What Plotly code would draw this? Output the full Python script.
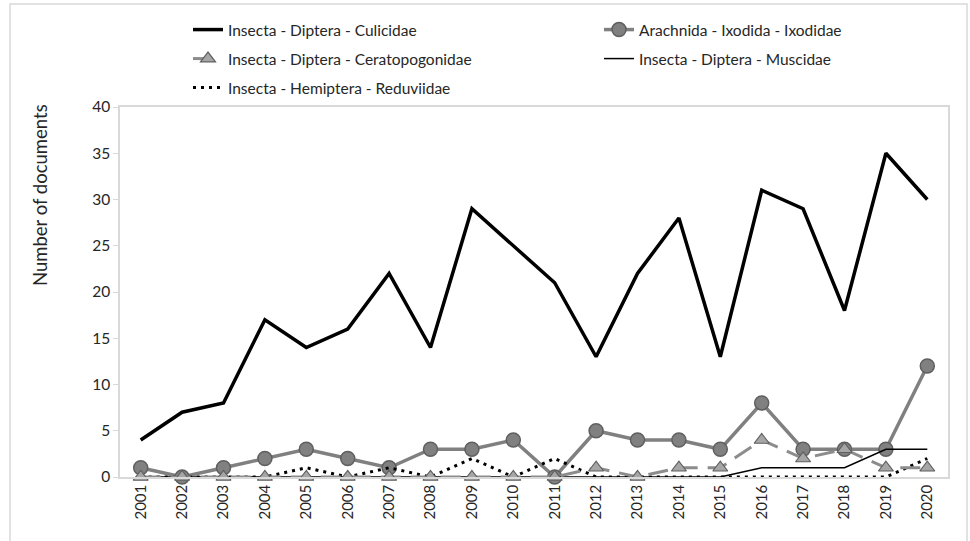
import plotly.graph_objects as go

years = [str(y) for y in range(2001, 2021)]
culicidae = [4, 7, 8, 17, 14, 16, 22, 14, 29, 25, 21, 13, 22, 28, 13, 31, 29, 18, 35, 30]
ixodidae = [1, 0, 1, 2, 3, 2, 1, 3, 3, 4, 0, 5, 4, 4, 3, 8, 3, 3, 3, 12]
ceratopogonidae = [0, 0, 0, 0, 0, 0, 0, 0, 0, 0, 0, 1, 0, 1, 1, 4, 2, 3, 1, 1]
muscidae = [0, 0, 0, 0, 0, 0, 0, 0, 0, 0, 0, 0, 0, 0, 0, 1, 1, 1, 3, 3]
reduviidae = [0, 0, 0, 0, 1, 0, 1, 0, 2, 0, 2, 0, 0, 0, 0, 0, 0, 0, 0, 2]
yticks = [0, 5, 10, 15, 20, 25, 30, 35, 40]

FONT = "Lato"
TXT = "#262626"
W, H = 970, 541
L, R, T, B = 120, 22, 107, 64
PW, PH = W - L - R, H - T - B

def px(x):
    return (x - L) / PW

def py(y):
    return (H - B - y) / PH

fig = go.Figure()
fig.add_trace(go.Scatter(x=years, y=culicidae, name="Insecta - Diptera - Culicidae", mode="lines",
                         line=dict(color="black", width=3.5), legend="legend", cliponaxis=False))
fig.add_trace(go.Scatter(x=years, y=ixodidae, name="Arachnida - Ixodida - Ixodidae", mode="lines+markers",
                         line=dict(color="#808080", width=3.5),
                         marker=dict(symbol="circle", size=14, color="#808080", line=dict(color="#5f5f5f", width=1.5)),
                         legend="legend2", cliponaxis=False))
fig.add_trace(go.Scatter(x=years, y=muscidae, name="Insecta - Diptera - Muscidae", mode="lines",
                         line=dict(color="black", width=1.5), legend="legend4", cliponaxis=False))
fig.add_trace(go.Scatter(x=years, y=reduviidae, name="Insecta - Hemiptera - Reduviidae", mode="lines",
                         line=dict(color="black", width=3, dash="3px,5px"), legend="legend5", cliponaxis=False))
fig.add_trace(go.Scatter(x=years, y=ceratopogonidae, name="Insecta - Diptera - Ceratopogonidae", mode="lines+markers",
                         line=dict(color="#8c8c8c", width=3, dash="20px,10px"),
                         marker=dict(symbol="triangle-up", size=13, color="#a6a6a6", line=dict(color="#5f5f5f", width=1.2)),
                         legend="legend3", cliponaxis=False))

def leg(xp, yp):
    return dict(xref="container", yref="container", x=xp / W, y=1 - yp / H,
                xanchor="left", yanchor="middle", bgcolor="rgba(0,0,0,0)",
                font=dict(family=FONT, size=15.5, color=TXT), itemwidth=30)

fig.update_layout(
    width=W, height=H,
    showlegend=True,
    margin=dict(l=L, r=R, t=T, b=B, autoexpand=False),
    paper_bgcolor="white", plot_bgcolor="white",
    font=dict(family=FONT, color=TXT),
    legend=leg(188, 30), legend2=leg(599, 30), legend3=leg(188, 59), legend4=leg(599, 59), legend5=leg(188, 88),
    xaxis=dict(type="category", range=[-0.5, 19.5], showgrid=False, showline=True, mirror=True,
               linecolor="#d9d9d9", linewidth=1.5, tickangle=-90, ticks="", zeroline=False,
               tickfont=dict(family=FONT, size=15, color=TXT)),
    yaxis=dict(range=[0, 40], tickvals=yticks, showgrid=False, showline=True, mirror=True,
               linecolor="#d9d9d9", linewidth=1.5, ticks="outside", ticklen=5, tickcolor="#d9d9d9",
               zeroline=False, tickfont=dict(family=FONT, size=15.5, color=TXT)),
    annotations=[dict(text="Number of documents", xref="paper", yref="paper", x=px(40), y=py(195),
                      textangle=-90, showarrow=False, xanchor="center", yanchor="middle",
                      font=dict(family=FONT, size=18.5, color=TXT))],
    shapes=[dict(type="rect", xref="paper", yref="paper", x0=px(10), x1=px(967), y0=py(546), y1=py(4),
                 line=dict(color="#d9d9d9", width=1.5), fillcolor="rgba(0,0,0,0)", layer="below")],
)

fig.write_html("out.html", config={"displayModeBar": False},
               post_script="document.body.style.margin='0';")
